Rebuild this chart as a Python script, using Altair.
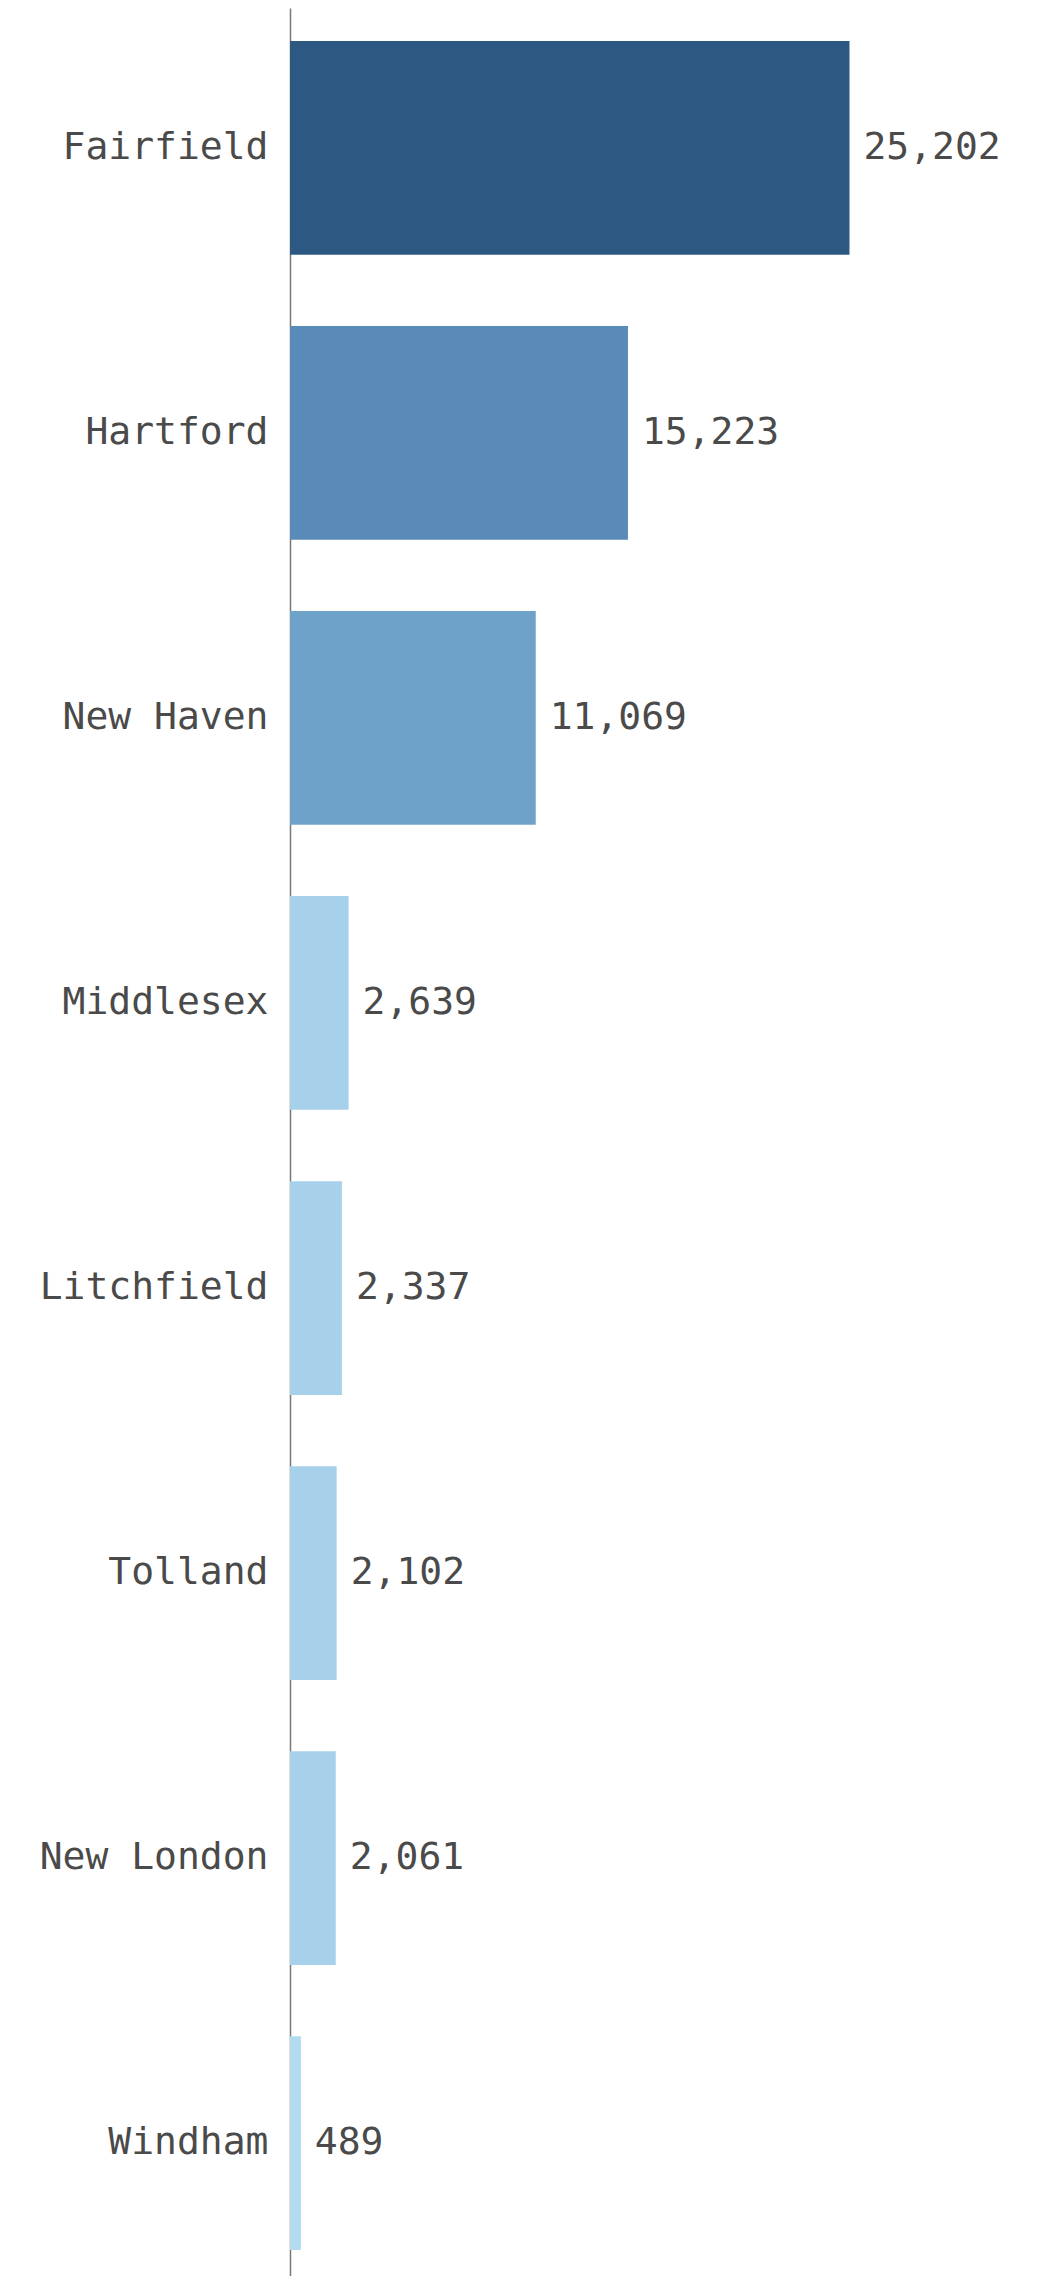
import altair as alt
import pandas as pd

counties = ["Fairfield", "Hartford", "New Haven", "Middlesex", "Litchfield",
            "Tolland", "New London", "Windham"]
values = [25202, 15223, 11069, 2639, 2337, 2102, 2061, 489]

color_thresholds = [1000, 5000, 13000, 20000]
color_range = ["#b3dbf0", "#a7d1ea", "#6fa2c9", "#5a8ab8", "#2c5881"]

df = pd.DataFrame({"county": counties, "value": values})

FONT = "DejaVu Sans Mono"

y = alt.Y("county:N", sort=counties, title=None,
          scale=alt.Scale(paddingInner=0.25, paddingOuter=0.116),
          axis=alt.Axis(ticks=False, labelPadding=22, minExtent=282, labelLimit=0,
                        labelFont=FONT, labelFontSize=38, labelColor="#4a4a4a",
                        domainColor="#777777", domainWidth=1.5, grid=False))
x = alt.X("value:Q", title=None,
          scale=alt.Scale(domain=[0, 30000], nice=False),
          axis=None)

bars = alt.Chart(df).mark_bar().encode(
    y=y, x=x,
    color=alt.Color("value:Q", legend=None,
                    scale=alt.Scale(type="threshold", domain=color_thresholds,
                                    range=color_range)),
)

labels = alt.Chart(df).mark_text(align="left", baseline="middle", dx=14,
                                 font=FONT, fontSize=38, color="#4a4a4a").encode(
    y=alt.Y("county:N", sort=counties),
    x=alt.X("value:Q"),
    text=alt.Text("value:Q", format=","),
)

chart = alt.layer(bars, labels).properties(
    width=666, height=2275, padding=0
).configure_view(stroke=None)

chart.save("out.html", embed_options={"renderer": "svg", "actions": False})
